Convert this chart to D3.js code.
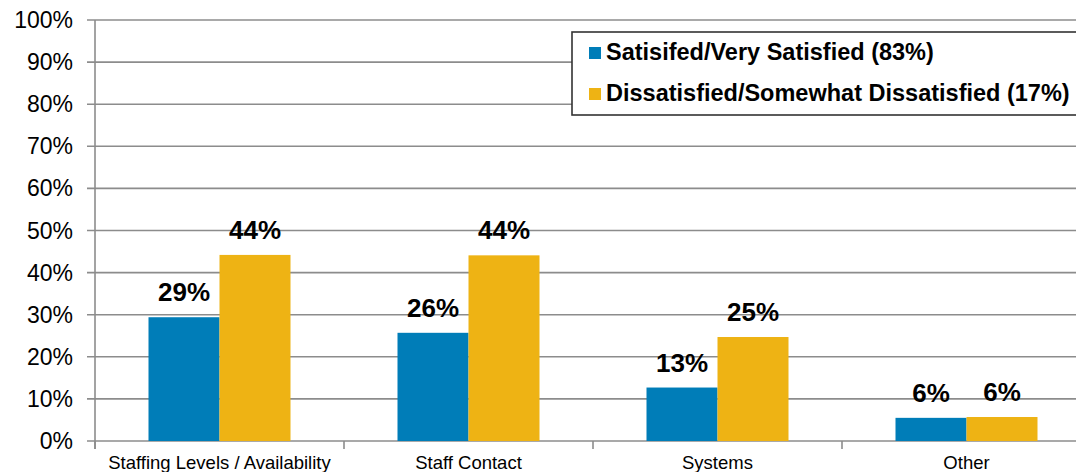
<!DOCTYPE html>
<html>
<head>
<meta charset="utf-8">
<script src="https://cdn.jsdelivr.net/npm/d3@7"></script>
<style>
  html, body { margin: 0; padding: 0; background: #fff; }
  svg { display: block; font-family: "Liberation Sans", Arial, sans-serif; }
</style>
</head>
<body>
<svg id="chart" width="1076" height="472"></svg>
<script>
const categories = ["Staffing Levels / Availability", "Staff Contact", "Systems", "Other"];
const seriesNames = ["Satisifed/Very Satisfied (83%)", "Dissatisfied/Somewhat Dissatisfied (17%)"];
const satisfiedValues = [0.294, 0.257, 0.127, 0.055];
const dissatisfiedValues = [0.442, 0.441, 0.247, 0.057];
const satisfiedLabels = ["29%", "26%", "13%", "6%"];
const dissatisfiedLabels = ["44%", "44%", "25%", "6%"];
const yTicks = [0, 0.1, 0.2, 0.3, 0.4, 0.5, 0.6, 0.7, 0.8, 0.9, 1.0];
const colors = ["#007DB8", "#EEB314"];

(function () {
const svg = d3.select("#chart");
const mLeft = 95, mTop = 20, mBottom = 441, bandW = 249;

const x = d3.scaleBand().domain(categories).range([mLeft, mLeft + bandW * categories.length]).padding(0);
const x1 = d3.scaleBand().domain(seriesNames).range([0, 142]).padding(0);
const y = d3.scaleLinear().domain([0, 1]).range([mBottom, mTop]);

// gridlines
svg.append("g").selectAll("line").data(yTicks).join("line")
  .attr("x1", mLeft - 8).attr("x2", 1076)
  .attr("y1", d => y(d)).attr("y2", d => y(d))
  .attr("stroke", "#8c8c8c").attr("stroke-width", 1.6);

// y axis line
svg.append("line").attr("x1", mLeft).attr("x2", mLeft).attr("y1", mTop).attr("y2", mBottom + 8)
  .attr("stroke", "#8c8c8c").attr("stroke-width", 1.6);

// y tick labels
svg.append("g").selectAll("text").data(yTicks).join("text")
  .attr("x", 73).attr("y", d => y(d) + 8)
  .attr("text-anchor", "end").attr("font-size", 23).attr("fill", "#000")
  .text(d3.format(".0%"));

// x ticks
const boundaries = categories.map(c => x(c)).concat([x.range()[1]]);
svg.append("g").selectAll("line").data(boundaries).join("line")
  .attr("x1", d => d).attr("x2", d => d).attr("y1", mBottom).attr("y2", mBottom + 8)
  .attr("stroke", "#8c8c8c").attr("stroke-width", 1.6);

// x labels
svg.append("g").selectAll("text").data(categories).join("text")
  .attr("x", d => x(d) + bandW / 2).attr("y", 469)
  .attr("text-anchor", "middle").attr("font-size", 18.5).attr("fill", "#000")
  .text(d => d);

const rows = categories.map((c, i) => ({
  cat: c,
  vals: [
    { s: seriesNames[0], v: satisfiedValues[i], lab: satisfiedLabels[i], col: colors[0] },
    { s: seriesNames[1], v: dissatisfiedValues[i], lab: dissatisfiedLabels[i], col: colors[1] }
  ]
}));

const off = (bandW - 142) / 2;
const groups = svg.append("g").selectAll("g").data(rows).join("g")
  .attr("transform", d => `translate(${x(d.cat) + off},0)`);

groups.selectAll("rect").data(d => d.vals).join("rect")
  .attr("x", d => x1(d.s)).attr("width", x1.bandwidth())
  .attr("y", d => y(d.v)).attr("height", d => y(0) - y(d.v))
  .attr("fill", d => d.col);

groups.selectAll("text").data(d => d.vals).join("text")
  .attr("x", d => x1(d.s) + x1.bandwidth() / 2)
  .attr("y", d => y(d.v) - 16)
  .attr("text-anchor", "middle").attr("font-size", 26).attr("font-weight", "bold").attr("fill", "#000")
  .text(d => d.lab);

// legend
const lg = svg.append("g");
lg.append("rect").attr("x", 572).attr("y", 32).attr("width", 540).attr("height", 83)
  .attr("fill", "#fff").attr("stroke", "#333").attr("stroke-width", 1.6);
const legendRows = lg.selectAll("g").data(seriesNames).join("g")
  .attr("transform", (d, i) => `translate(0,${60 + i * 41})`);
legendRows.append("rect").attr("x", 589).attr("y", -13).attr("width", 12).attr("height", 12)
  .attr("fill", (d, i) => colors[i]);
legendRows.append("text").attr("x", 606).attr("y", 0)
  .attr("font-size", 23.5).attr("font-weight", "bold").attr("fill", "#000")
  .text(d => d);
})();
</script>
</body>
</html>
